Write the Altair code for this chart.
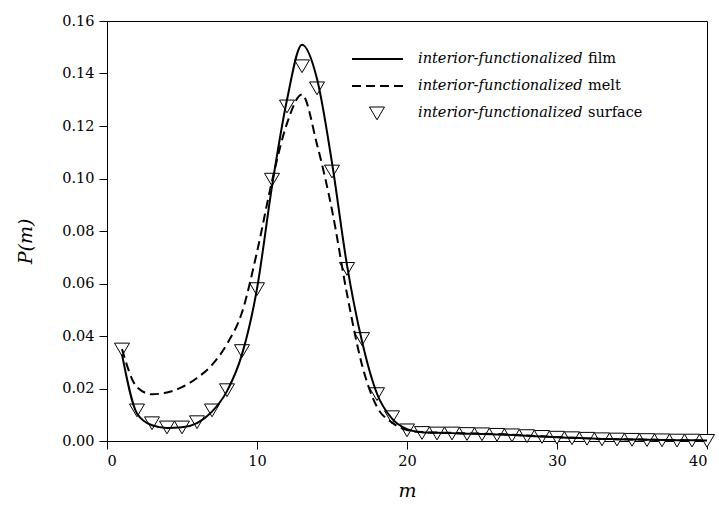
import altair as alt
import pandas as pd

# ---- data ----
m = list(range(1, 41))
film = [0.0330, 0.0105, 0.0060, 0.0050, 0.0052, 0.0068, 0.0112, 0.0190, 0.0330, 0.0580,
        0.0970, 0.1300, 0.1510, 0.1380, 0.1060, 0.0670, 0.0380, 0.0180, 0.0085, 0.0045,
        0.0033, 0.0031, 0.0030, 0.0028, 0.0027, 0.0025, 0.0023, 0.0020, 0.0017, 0.0014,
        0.0012, 0.0010, 0.0008, 0.0007, 0.0006, 0.0005, 0.0004, 0.0003, 0.0003, 0.0002]
melt = [0.0350, 0.0205, 0.0178, 0.0185, 0.0205, 0.0240, 0.0290, 0.0370, 0.0490, 0.0720,
        0.0990, 0.1210, 0.1320, 0.1130, 0.0880, 0.0560, 0.0290, 0.0130, 0.0070, 0.0042,
        0.0034, 0.0032, 0.0031, 0.0029, 0.0028, 0.0026, 0.0024, 0.0021, 0.0018, 0.0015,
        0.0012, 0.0010, 0.0008, 0.0007, 0.0006, 0.0005, 0.0004, 0.0003, 0.0003, 0.0002]
surface = [0.0350, 0.0118, 0.0069, 0.0053, 0.0053, 0.0073, 0.0118, 0.0195, 0.0344, 0.0580,
           0.0997, 0.1276, 0.1429, 0.1345, 0.1028, 0.0657, 0.0390, 0.0180, 0.0092, 0.0042,
           0.0032, 0.0030, 0.0030, 0.0028, 0.0027, 0.0025, 0.0023, 0.0020, 0.0017, 0.0014,
           0.0012, 0.0010, 0.0008, 0.0007, 0.0006, 0.0005, 0.0004, 0.0003, 0.0003, 0.0002]

x_ticks = [0, 10, 20, 30, 40]
y_ticks = [0.00, 0.02, 0.04, 0.06, 0.08, 0.10, 0.12, 0.14, 0.16]

legend_italic = "interior-functionalized"
legend_plain = ["film", "melt", "surface"]

df = pd.DataFrame({"m": m, "film": film, "melt": melt, "surface": surface})

FONT = "DejaVu Serif"
TRI = "M-1,-0.8L1,-0.8L0,0.9Z"

X = alt.X("m:Q", scale=alt.Scale(domain=[0, 40], nice=False, zero=False),
          axis=alt.Axis(values=x_ticks, format="d", title="m",
                        titleX=300, titleY=49, titleAlign="center", titleBaseline="middle"))


def Y(field):
    return alt.Y(f"{field}:Q", scale=alt.Scale(domain=[0, 0.16], nice=False),
                 axis=alt.Axis(values=y_ticks, format=".2f", title="P(m)",
                               titleX=-82, titleY=220, titleAngle=270,
                               titleAlign="center", titleBaseline="middle"))


base = alt.Chart(df)

surf = base.mark_point(shape=TRI, size=225, filled=False, fill="white",
                       stroke="black", strokeWidth=1, opacity=1).encode(x=X, y=Y("surface"))
film_line = base.mark_line(color="black", strokeWidth=2, interpolate="monotone").encode(x=X, y=Y("film"))
melt_line = base.mark_line(color="black", strokeWidth=2, strokeDash=[9, 5],
                           interpolate="monotone").encode(x=X, y=Y("melt"))

# ---- manual legend (pixel layout inside the plot area) ----
LFS = 14.5
rows_y = [38, 65, 92]
lx0, lx1, tri_x, txt_x, plain_x = 245, 296, 270, 311, 481

legend_layers = []
one = pd.DataFrame({"k": [0]})
legend_layers.append(alt.Chart(one).mark_rule(color="black", strokeWidth=2).encode(
    x=alt.value(lx0), x2=alt.value(lx1), y=alt.value(rows_y[0])))
legend_layers.append(alt.Chart(one).mark_rule(color="black", strokeWidth=2, strokeDash=[9, 5]).encode(
    x=alt.value(lx0), x2=alt.value(lx1), y=alt.value(rows_y[1])))
legend_layers.append(alt.Chart(one).mark_point(shape=TRI, size=225, filled=False, fill="white",
                                               stroke="black", strokeWidth=1, opacity=1).encode(
    x=alt.value(tri_x), y=alt.value(rows_y[2])))
for i, p in enumerate(legend_plain):
    legend_layers.append(alt.Chart(pd.DataFrame({"t": [legend_italic]})).mark_text(
        font=FONT, fontSize=LFS, fontStyle="italic", align="left", baseline="middle", color="black").encode(
        x=alt.value(txt_x), y=alt.value(rows_y[i]), text="t:N"))
    legend_layers.append(alt.Chart(pd.DataFrame({"t": [p]})).mark_text(
        font=FONT, fontSize=LFS, align="left", baseline="middle", color="black").encode(
        x=alt.value(plain_x), y=alt.value(rows_y[i]), text="t:N"))

chart = alt.layer(surf, film_line, melt_line, *legend_layers).properties(
    width=600, height=420,
    autosize=alt.AutoSizeParams(type="none"),
    padding={"left": 107, "top": 21, "right": 12, "bottom": 83},
    background="white",
).configure_view(stroke="black", strokeWidth=1).configure_axis(
    grid=False, domainColor="black", tickColor="black", labelColor="black", titleColor="black",
    labelFont=FONT, labelFontSize=14.5, titleFont=FONT, titleFontSize=19,
    titleFontStyle="italic", titleFontWeight="normal", tickSize=8, labelPadding=5,
    domainWidth=1, tickWidth=1,
)

chart.save("out.html", embed_options={"renderer": "svg", "actions": False})
